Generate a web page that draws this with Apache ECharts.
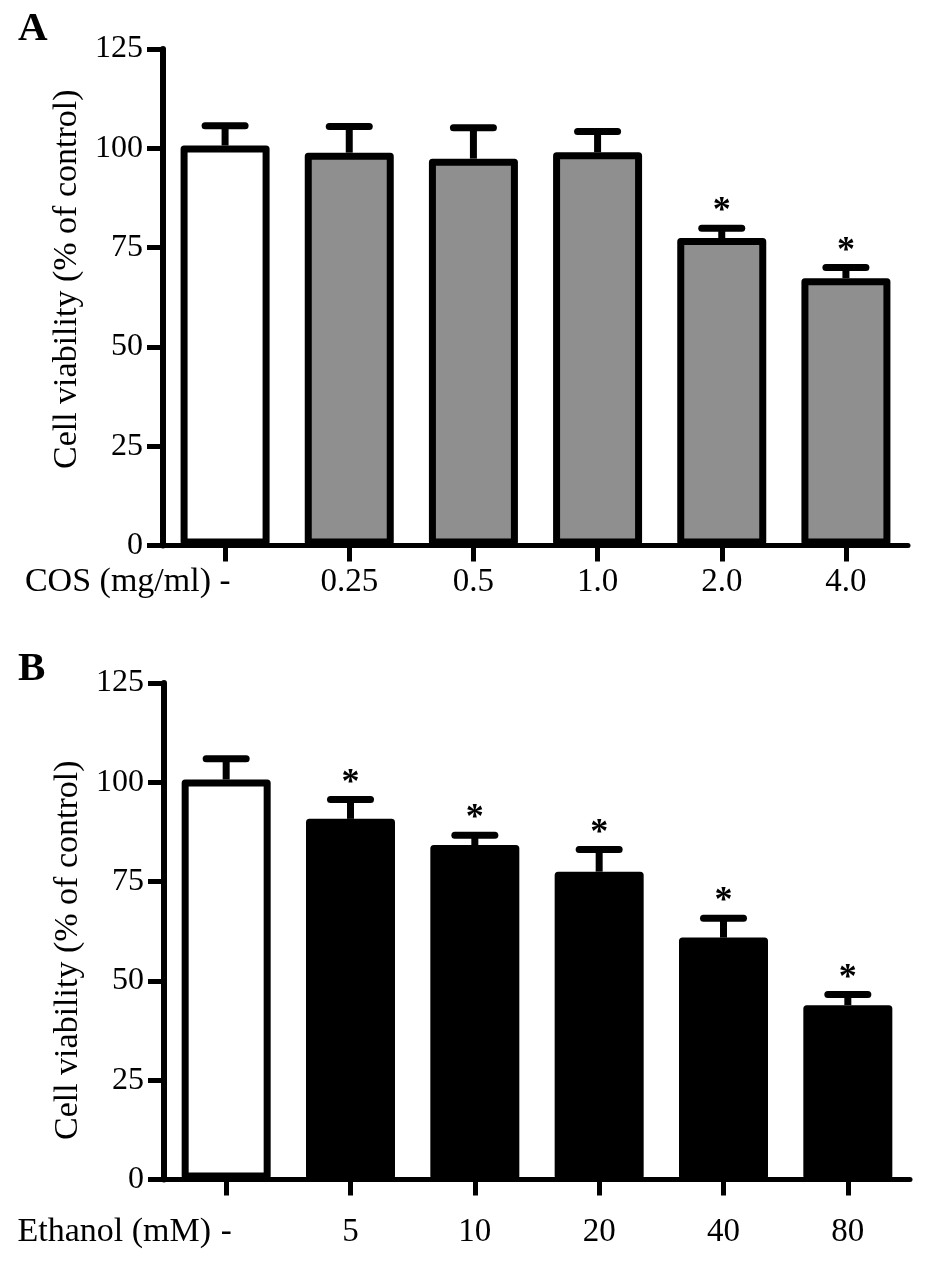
<!DOCTYPE html>
<html>
<head>
<meta charset="utf-8">
<script src="https://cdn.jsdelivr.net/npm/echarts@6/dist/echarts.min.js"></script>
<style>
html,body{margin:0;padding:0;background:#fff;}
#chart{width:945px;height:1272px;}
</style>
</head>
<body>
<div id="chart"></div>
<script>
// ---------- data ----------
const catsA = ['-', '0.25', '0.5', '1.0', '2.0', '4.0'];
const meanA = [100.7, 98.9, 97.4, 99.0, 77.4, 67.3];
const errA  = [5.0, 6.6, 7.8, 5.2, 2.5, 2.7];
const sigA  = [0, 0, 0, 0, 1, 1];

const catsB = ['-', '5', '10', '20', '40', '80'];
const meanB = [100.7, 90.8, 84.2, 77.5, 60.9, 43.9];
const errB  = [5.2, 4.9, 2.5, 5.6, 4.9, 2.7];
const sigB  = [0, 1, 1, 1, 1, 1];

const yTicks = [0, 25, 50, 75, 100, 125];
const yTitle = 'Cell viability (% of control)';
const xTitleA = 'COS (mg/ml)';
const xTitleB = 'Ethanol (mM)';

// ---------- styling ----------
const FONT = '"Liberation Serif", "Times New Roman", serif';
const chart = echarts.init(document.getElementById('chart'), null, {renderer: 'canvas'});

function errRender(params, api) {
  const i = api.value(0), m = api.value(1), e = api.value(2), s = api.value(3);
  const base = api.coord([i, m]);
  const top = api.coord([i, m + e]);
  const hw = 20;
  const children = [
    {type: 'line', shape: {x1: base[0], y1: base[1], x2: top[0], y2: top[1]},
     style: {stroke: '#000', lineWidth: 7}},
    {type: 'line', shape: {x1: top[0] - hw, y1: top[1], x2: top[0] + hw, y2: top[1]},
     style: {stroke: '#000', lineWidth: 7, lineCap: 'round'}}
  ];
  if (s) {
    children.push({type: 'text', x: top[0], y: top[1] - 16,
      style: {text: '*', font: 'bold 36px ' + FONT, align: 'center', verticalAlign: 'middle', fill: '#000'}});
  }
  return {type: 'group', children};
}

function yAxisCfg(idx, namePad) {
  return {
    type: 'value', gridIndex: idx, min: 0, max: 125, interval: 25,
    name: yTitle, nameLocation: 'middle', nameGap: 72,
    nameTextStyle: {fontFamily: FONT, fontSize: 34, color: '#000', padding: namePad},
    axisLine: {show: true, lineStyle: {color: '#000', width: 6}},
    axisTick: {show: true, length: 16, lineStyle: {color: '#000', width: 5}},
    axisLabel: {fontFamily: FONT, fontSize: 32, color: '#000', margin: 20,
      formatter: v => yTicks.includes(v) ? String(v) : ''},
    splitLine: {show: false}
  };
}

function xAxisCfg(idx, cats, margin) {
  return {
    type: 'category', gridIndex: idx, data: cats,
    axisLine: {show: true, lineStyle: {color: '#000', width: 5}},
    axisTick: {show: true, alignWithLabel: true, length: 16, lineStyle: {color: '#000', width: 5}},
    axisLabel: {fontFamily: FONT, fontSize: 33, color: '#000', margin: margin},
    splitLine: {show: false}
  };
}

function barSeries(idx, means, fill) {
  return {
    type: 'bar', xAxisIndex: idx, yAxisIndex: idx, data: means, barWidth: 89, z: 3,
    itemStyle: {
      color: p => p.dataIndex === 0 ? '#ffffff' : fill,
      borderColor: '#000', borderWidth: 7, borderJoin: 'round'
    }
  };
}

function errSeries(idx, means, errs, sigs) {
  return {
    type: 'custom', xAxisIndex: idx, yAxisIndex: idx, z: 2,
    renderItem: errRender,
    data: means.map((m, i) => [i, m, errs[i], sigs[i]])
  };
}

const option = {
  backgroundColor: '#fff',
  animation: false,
  grid: [
    {left: 163, top: 49, width: 745, height: 496.5},
    {left: 164, top: 683, width: 746, height: 496.5}
  ],
  xAxis: [xAxisCfg(0, catsA, 20), xAxisCfg(1, catsB, 36)],
  yAxis: [yAxisCfg(0, [0, 0, 0, 36]), yAxisCfg(1, [0, 38, 0, 0])],
  series: [
    errSeries(0, meanA, errA, sigA),
    barSeries(0, meanA, '#8f8f8f'),
    errSeries(1, meanB, errB, sigB),
    barSeries(1, meanB, '#000000')
  ],
  graphic: [
    {type: 'text', left: 18, top: 9, style: {text: 'A', font: 'bold 41px ' + FONT, fill: '#000'}},
    {type: 'text', left: 18, top: 649, style: {text: 'B', font: 'bold 41px ' + FONT, fill: '#000'}},
    {type: 'text', x: 211, y: 582, style: {text: xTitleA, font: '34px ' + FONT, fill: '#000', align: 'right', verticalAlign: 'middle'}},
    {type: 'text', x: 211, y: 1232, style: {text: xTitleB, font: '34px ' + FONT, fill: '#000', align: 'right', verticalAlign: 'middle'}}
  ]
};
chart.setOption(option);
</script>
</body>
</html>
